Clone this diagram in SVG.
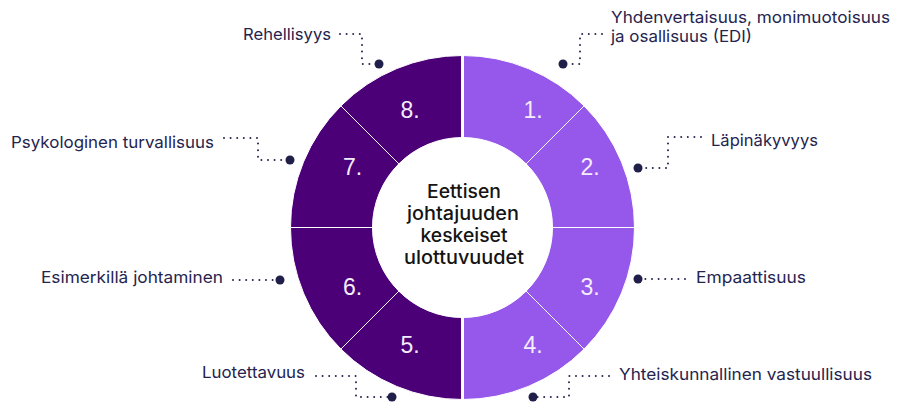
<svg xmlns="http://www.w3.org/2000/svg" width="902" height="420" viewBox="0 0 902 420">
<style>
.light{fill:#9658ea;stroke:#ffffff;stroke-width:1}
.dark{fill:#4b0078;stroke:#ffffff;stroke-width:1}
.num{font-family:"Liberation Sans",Arial,sans-serif;font-size:23px;fill:#f4eefc;text-anchor:middle}
.lbl{font-family:Inter,"Open Sans",sans-serif;font-size:16.5px;fill:#25244f}
.ctr{font-family:Inter,"Open Sans",sans-serif;font-size:18.5px;font-weight:500;fill:#141414;text-anchor:middle}
.dl{fill:none;stroke:#25244f;stroke-width:2;stroke-linecap:round;stroke-dasharray:0 6.6}
.dot{fill:#1f1f4a}
</style>
<rect width="902" height="420" fill="#ffffff"/>
<g id="seg1"><path class="light" d="M462.5,55.5 A172,172 0 0 1 584.12,105.88 L526.14,163.86 A90,90 0 0 0 462.5,137.5 Z"/><text class="num" x="533" y="118">1.</text></g>
<g id="seg2"><path class="light" d="M584.12,105.88 A172,172 0 0 1 634.5,227.5 L552.5,227.5 A90,90 0 0 0 526.14,163.86 Z"/><text class="num" x="590" y="175">2.</text></g>
<g id="seg3"><path class="light" d="M634.5,227.5 A172,172 0 0 1 584.12,349.12 L526.14,291.14 A90,90 0 0 0 552.5,227.5 Z"/><text class="num" x="590" y="295">3.</text></g>
<g id="seg4"><path class="light" d="M584.12,349.12 A172,172 0 0 1 462.5,399.5 L462.5,317.5 A90,90 0 0 0 526.14,291.14 Z"/><text class="num" x="533" y="352.5">4.</text></g>
<g id="seg5"><path class="dark" d="M462.5,399.5 A172,172 0 0 1 340.88,349.12 L398.86,291.14 A90,90 0 0 0 462.5,317.5 Z"/><text class="num" x="410" y="352.5">5.</text></g>
<g id="seg6"><path class="dark" d="M340.88,349.12 A172,172 0 0 1 290.5,227.5 L372.5,227.5 A90,90 0 0 0 398.86,291.14 Z"/><text class="num" x="352.5" y="295">6.</text></g>
<g id="seg7"><path class="dark" d="M290.5,227.5 A172,172 0 0 1 340.88,105.88 L398.86,163.86 A90,90 0 0 0 372.5,227.5 Z"/><text class="num" x="352.5" y="175">7.</text></g>
<g id="seg8"><path class="dark" d="M340.88,105.88 A172,172 0 0 1 462.5,55.5 L462.5,137.5 A90,90 0 0 0 398.86,163.86 Z"/><text class="num" x="410" y="118">8.</text></g>
<line x1="462.5" y1="54" x2="462.5" y2="401" stroke="#ffffff" stroke-width="3"/>
<g id="center">
<circle cx="462.5" cy="227.5" r="89.5" fill="#ffffff"/>
<text class="ctr" x="464" y="198" textLength="74" lengthAdjust="spacingAndGlyphs">Eettisen</text>
<text class="ctr" x="463" y="220" textLength="112" lengthAdjust="spacingAndGlyphs">johtajuuden</text>
<text class="ctr" x="464" y="242" textLength="87" lengthAdjust="spacingAndGlyphs">keskeiset</text>
<text class="ctr" x="464" y="264" textLength="120" lengthAdjust="spacingAndGlyphs">ulottuvuudet</text>
</g>
<g id="label1"><text class="lbl" x="611" y="23" textLength="279" lengthAdjust="spacingAndGlyphs">Yhdenvertaisuus, monimuotoisuus</text><text class="lbl" x="611" y="41.5" textLength="141" lengthAdjust="spacingAndGlyphs">ja osallisuus (EDI)</text></g>
<g id="label2"><text class="lbl" x="711" y="146" textLength="107" lengthAdjust="spacingAndGlyphs">Läpinäkyvyys</text></g>
<g id="label3"><text class="lbl" x="696" y="283" textLength="110" lengthAdjust="spacingAndGlyphs">Empaattisuus</text></g>
<g id="label4"><text class="lbl" x="619" y="379.5" textLength="253" lengthAdjust="spacingAndGlyphs">Yhteiskunnallinen vastuullisuus</text></g>
<g id="label5"><text class="lbl" x="202" y="377.5" textLength="103" lengthAdjust="spacingAndGlyphs">Luotettavuus</text></g>
<g id="label6"><text class="lbl" x="41" y="283" textLength="182" lengthAdjust="spacingAndGlyphs">Esimerkillä johtaminen</text></g>
<g id="label7"><text class="lbl" x="11" y="148" textLength="203" lengthAdjust="spacingAndGlyphs">Psykologinen turvallisuus</text></g>
<g id="label8"><text class="lbl" x="243" y="39.5" textLength="88" lengthAdjust="spacingAndGlyphs">Rehellisyys</text></g>
<g id="connectors">
<path class="dl" d="M602,34 H580 V64 H567"/><circle class="dot" cx="563" cy="64" r="4.5"/>
<path class="dl" d="M701,137 H668 V168 H642"/><circle class="dot" cx="638" cy="168" r="4.5"/>
<path class="dl" d="M685,279 H642"/><circle class="dot" cx="638" cy="279" r="4.5"/>
<path class="dl" d="M609,376 H569 V397 H537"/><circle class="dot" cx="533" cy="397" r="4.5"/>
<path class="dl" d="M316,376 H356 V397 H388"/><circle class="dot" cx="392" cy="397" r="4.5"/>
<path class="dl" d="M233,280 H276"/><circle class="dot" cx="280" cy="280" r="4.5"/>
<path class="dl" d="M224,138 H258 V160 H286"/><circle class="dot" cx="290" cy="160" r="4.5"/>
<path class="dl" d="M340,34 H362 V64 H375"/><circle class="dot" cx="379" cy="64" r="4.5"/>
</g>
</svg>
